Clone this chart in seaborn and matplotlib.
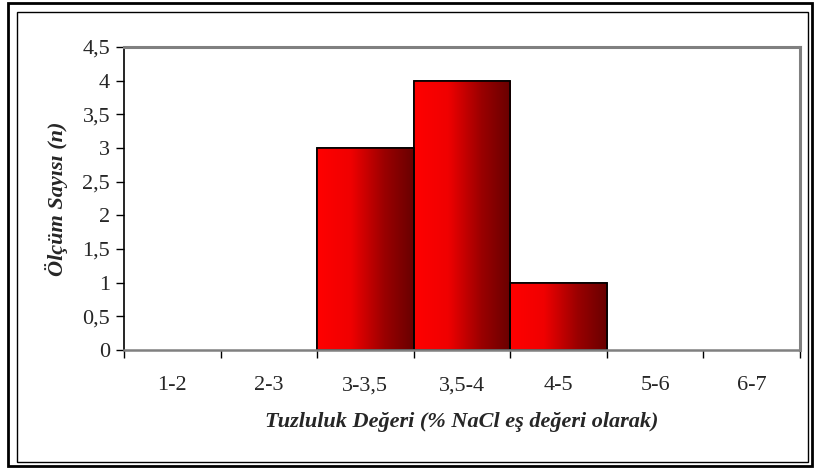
import numpy as np
import matplotlib
matplotlib.use("Agg")
from matplotlib import pyplot as plt
from matplotlib.colors import LinearSegmentedColormap
from matplotlib.patches import Rectangle
import seaborn as sns
import pandas as pd

# data
ranges = ["1-2", "2-3", "3-3,5", "3,5-4", "4-5", "5-6", "6-7"]
counts = [0, 0, 3, 4, 1, 0, 0]
yticks = [0, 0.5, 1, 1.5, 2, 2.5, 3, 3.5, 4, 4.5]

sns.set_style("white")
plt.rcParams['font.family'] = ['Liberation Serif', 'DejaVu Serif']

fig = plt.figure(figsize=(8.16, 4.70), dpi=100)
ax = fig.add_axes([124 / 816, 1 - 350 / 470, 676 / 816, 303 / 470])

df = pd.DataFrame({"aralik": ranges, "n": counts})
sns.barplot(data=df, x="aralik", y="n", color="red", width=1.0,
            edgecolor="black", linewidth=1.2, saturation=1, ax=ax)

# gradient fill for bars: bright red on the left, dark red on the right
grad = LinearSegmentedColormap.from_list(
    "kirmizi", [(0, "#ff0000"), (0.35, "#f00000"), (0.7, "#9a0000"), (1, "#680000")])
gv = np.linspace(0, 1, 256).reshape(1, -1)
for bar in list(ax.patches):
    h = bar.get_height()
    if h <= 0:
        bar.set_visible(False)
        continue
    x0 = bar.get_x()
    w = bar.get_width()
    im = ax.imshow(gv, cmap=grad, aspect="auto", extent=[x0, x0 + w, 0, h],
                   zorder=bar.get_zorder() + 0.1, interpolation="bicubic")
    im.set_clip_path(bar)
    ax.add_patch(Rectangle((x0, 0), w, h, fill=False, edgecolor="black",
                           linewidth=1.2, zorder=bar.get_zorder() + 0.2))

ax.set_xlim(-0.5, len(ranges) - 0.5)
ax.set_ylim(0, 4.5)
ax.set_yticks(yticks)
ax.set_yticklabels([f"{v:g}".replace(".", ",") for v in yticks])

# x ticks on category boundaries, labels in the middle
ax.set_xticks(np.arange(-0.5, len(ranges), 1.0))
ax.set_xticklabels([])
ax.set_xticks(np.arange(len(ranges)), minor=True)
ax.set_xticklabels(ranges, minor=True)
ax.tick_params(axis="x", which="major", bottom=True, direction="out", length=6,
               width=1, color="black")
ax.tick_params(axis="x", which="minor", bottom=False, length=0, pad=19, labelsize=16)
ax.tick_params(axis="y", left=True, direction="out", length=6, width=1,
               color="black", labelsize=16, pad=4)

for s in ["top", "right"]:
    ax.spines[s].set_color("#808080")
    ax.spines[s].set_linewidth(2.2)
ax.spines["bottom"].set_color("#808080")
ax.spines["bottom"].set_linewidth(1.8)
ax.spines["left"].set_color("black")
ax.spines["left"].set_linewidth(1.2)

ax.set_xlabel("Tuzluluk Değeri (% NaCl eş değeri olarak)", fontsize=16,
              fontweight="bold", fontstyle="italic", labelpad=12)
ax.set_ylabel("Ölçüm Sayısı (n)", fontsize=16, fontweight="bold",
              fontstyle="italic", labelpad=10)

# double frame around the chart
fig.add_artist(Rectangle((8 / 816, 1 - 466 / 470), 804 / 816, 463 / 470,
                         transform=fig.transFigure, fill=False,
                         edgecolor="black", linewidth=2))
fig.add_artist(Rectangle((17 / 816, 1 - 462 / 470), 791 / 816, 450 / 470,
                         transform=fig.transFigure, fill=False,
                         edgecolor="black", linewidth=1))

plt.savefig("out.png", dpi=100)
